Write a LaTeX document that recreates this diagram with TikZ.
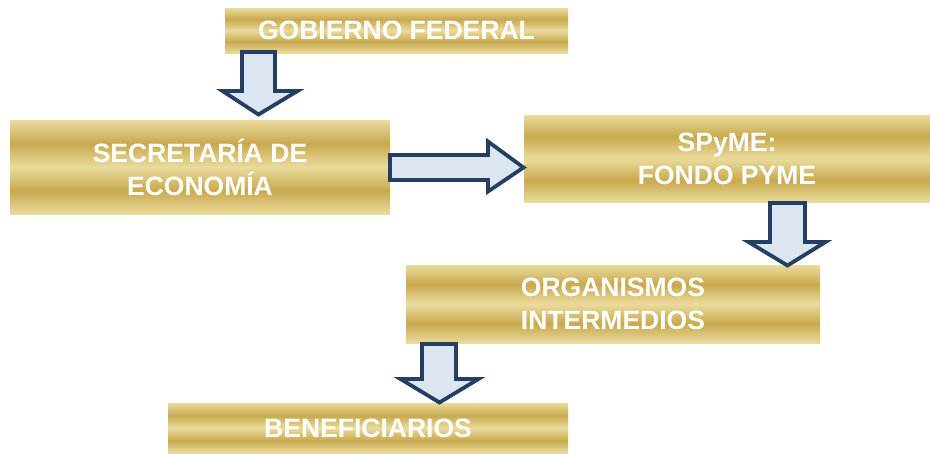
\documentclass[tikz,border=0pt]{standalone}
\usepackage{fontspec}
\setmainfont{Liberation Sans}
\definecolor{gl}{HTML}{EADB9C}
\definecolor{gd}{HTML}{C8A94F}
\definecolor{arrfill}{HTML}{DCE6F2}
\definecolor{arrline}{HTML}{243F60}
\pgfdeclareverticalshading{goldbars}{100bp}{color(0bp)=(gl); color(25bp)=(gl); color(37.5bp)=(gd); color(50bp)=(gl); color(62.5bp)=(gd); color(75bp)=(gl); color(100bp)=(gl)}
\tikzset{
  goldbox/.style={rectangle, shading=goldbars, draw=none, inner sep=0pt,
    text=white, font=\fontsize{26.5}{33}\selectfont\bfseries, align=center},
  blockarrow/.style={fill=arrfill, draw=arrline, line width=3.8pt, line join=miter}
}
\begin{document}
\begin{tikzpicture}[x=1pt,y=-1pt]
\useasboundingbox (0,0) rectangle (930,453);
\node[goldbox, minimum width=343pt, minimum height=45pt] (gf) at (396.5,30.5) {GOBIERNO FEDERAL};
\node[goldbox, minimum width=380pt, minimum height=94pt] (se) at (200,167) {SECRETARÍA DE\\ECONOMÍA};
\node[goldbox, minimum width=406pt, minimum height=87pt] (sp) at (727,158.5) {SPyME:\\FONDO PYME};
\node[goldbox, minimum width=414pt, minimum height=78pt] (oi) at (613,304) {ORGANISMOS\\INTERMEDIOS};
\node[goldbox, minimum width=400pt, minimum height=50pt] (be) at (368,428) {BENEFICIARIOS};
% block arrows
\draw[blockarrow] (242,52) -- (275,52) -- (275,91) -- (297.5,91) -- (258.5,114.5) -- (222.5,91) -- (242,91) -- cycle;
\draw[blockarrow] (390,155) -- (488,155) -- (488,141.5) -- (523.5,167.5) -- (488,191.5) -- (488,180) -- (390,180) -- cycle;
\draw[blockarrow] (770,203) -- (805,203) -- (805,242) -- (825.5,242) -- (787.5,265.5) -- (748.5,242) -- (770,242) -- cycle;
\draw[blockarrow] (422,344) -- (456,344) -- (456,379) -- (478.5,379) -- (439.5,402.5) -- (400.5,379) -- (422,379) -- cycle;
\end{tikzpicture}
\end{document}
